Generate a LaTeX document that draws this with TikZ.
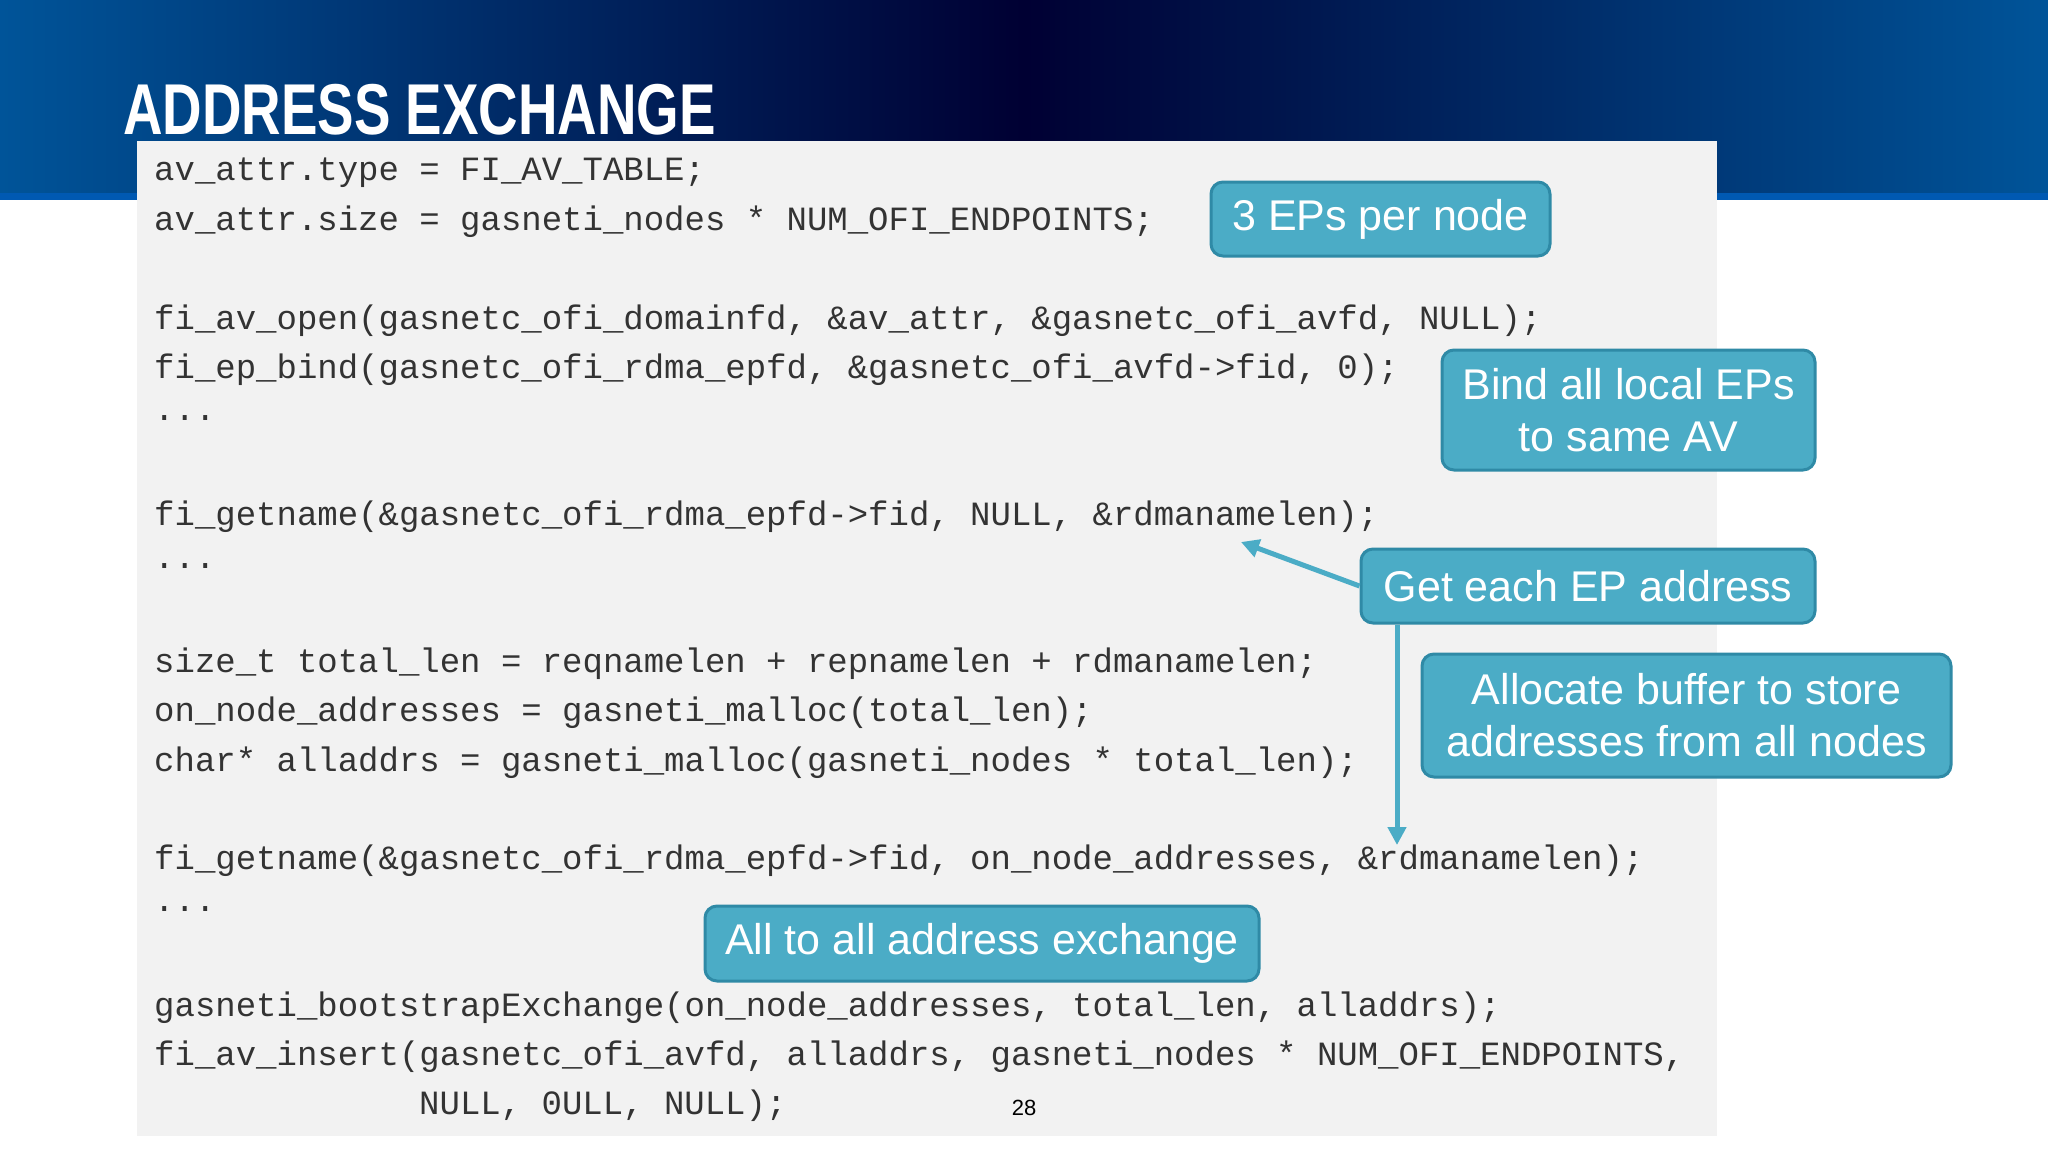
\documentclass[tikz,border=0pt]{standalone}
\usepackage{fontspec}
\setmainfont{Liberation Sans}
\newfontfamily\codefont{Liberation Mono}
\usetikzlibrary{arrows.meta}
\definecolor{callfill}{HTML}{4BACC6}
\definecolor{calledge}{HTML}{2F8AA6}
\definecolor{panel}{HTML}{F2F2F2}
\definecolor{codecol}{HTML}{333333}
\tikzset{
  code/.style={anchor=west,inner sep=0pt,font=\codefont\fontsize{34}{40}\selectfont,text=codecol},
  callout/.style={draw=calledge,line width=3pt,fill=callfill,rounded corners=12pt,text=white,
    font=\fontsize{43}{52}\selectfont,align=center,inner sep=0pt},
  conn/.style={draw=callfill,line width=5pt,-{Triangle[length=18pt,width=18pt]}}
}
\begin{document}
\begin{tikzpicture}[x=1pt,y=-1pt]
\useasboundingbox (0,0) rectangle (2048,1152);
\fill[white] (0,0) rectangle (2048,1152);
% header
\shade[left color=blue!45!cyan!60!black, right color=blue!45!cyan!60!black, middle color=black!80!blue] (0,0) rectangle (2048,196);
\fill[blue!50!cyan!70!black] (0,193) rectangle (2048,200);
\node[anchor=base west,inner sep=0pt,text=white,font=\bfseries\fontsize{72}{80}\selectfont,xscale=0.76] (title) at (123,134) {ADDRESS EXCHANGE};
% panel
\fill[panel] (137,141) rectangle (1717,1136);
% code
\node[code] (c0) at (154,173) {av\_attr.type = FI\_AV\_TABLE;};
\node[code] (c1) at (154,222.1) {av\_attr.size = gasneti\_nodes * NUM\_OFI\_ENDPOINTS;};
\node[code] (c3) at (154,320.3) {fi\_av\_open(gasnetc\_ofi\_domainfd, \&av\_attr, \&gasnetc\_ofi\_avfd, NULL);};
\node[code] (c4) at (154,369.4) {fi\_ep\_bind(gasnetc\_ofi\_rdma\_epfd, \&gasnetc\_ofi\_avfd->fid, 0);};
\node[code] (c5) at (154,418.5) {...};
\node[code] (c7) at (154,516.7) {fi\_getname(\&gasnetc\_ofi\_rdma\_epfd->fid, NULL, \&rdmanamelen);};
\node[code] (c8) at (154,565.8) {...};
\node[code] (c10) at (154,664) {size\_t total\_len = reqnamelen + repnamelen + rdmanamelen;};
\node[code] (c11) at (154,713.1) {on\_node\_addresses = gasneti\_malloc(total\_len);};
\node[code] (c12) at (154,762.2) {char* alladdrs = gasneti\_malloc(gasneti\_nodes * total\_len);};
\node[code] (c14) at (154,860.4) {fi\_getname(\&gasnetc\_ofi\_rdma\_epfd->fid, on\_node\_addresses, \&rdmanamelen);};
\node[code] (c15) at (154,909.5) {...};
\node[code] (c17) at (154,1007.7) {gasneti\_bootstrapExchange(on\_node\_addresses, total\_len, alladdrs);};
\node[code] (c18) at (154,1056.8) {fi\_av\_insert(gasnetc\_ofi\_avfd, alladdrs, gasneti\_nodes * NUM\_OFI\_ENDPOINTS,};
\node[code] (c19) at (154,1105.9) {\hspace*{265pt}NULL, 0ULL, NULL);};
\node[inner sep=0pt,font=\fontsize{22}{26}\selectfont] (pg) at (1024,1108) {28};
% callouts
\node[callout,minimum width=339pt,minimum height=74pt] (eps) at (1380.5,219) {3 EPs per node};
\node[callout,minimum width=373pt,minimum height=120pt] (bind) at (1628.5,410) {Bind all local EPs\\to same AV};
\node[callout,minimum width=454pt,minimum height=74pt] (get) at (1588,586) {Get each EP address};
\node[callout,minimum width=529pt,minimum height=123pt] (alloc) at (1686.5,715.5) {Allocate buffer to store\\addresses from all nodes};
\node[callout,minimum width=554pt,minimum height=75pt] (all) at (982,943.5) {All to all address exchange};
\coordinate (t1) at (1241,542);
\coordinate (t2) at (1397,845);
\draw[conn] (get.west) -- (t1);
\draw[conn] (get.south west -| t2) -- (t2);
\end{tikzpicture}
\end{document}
